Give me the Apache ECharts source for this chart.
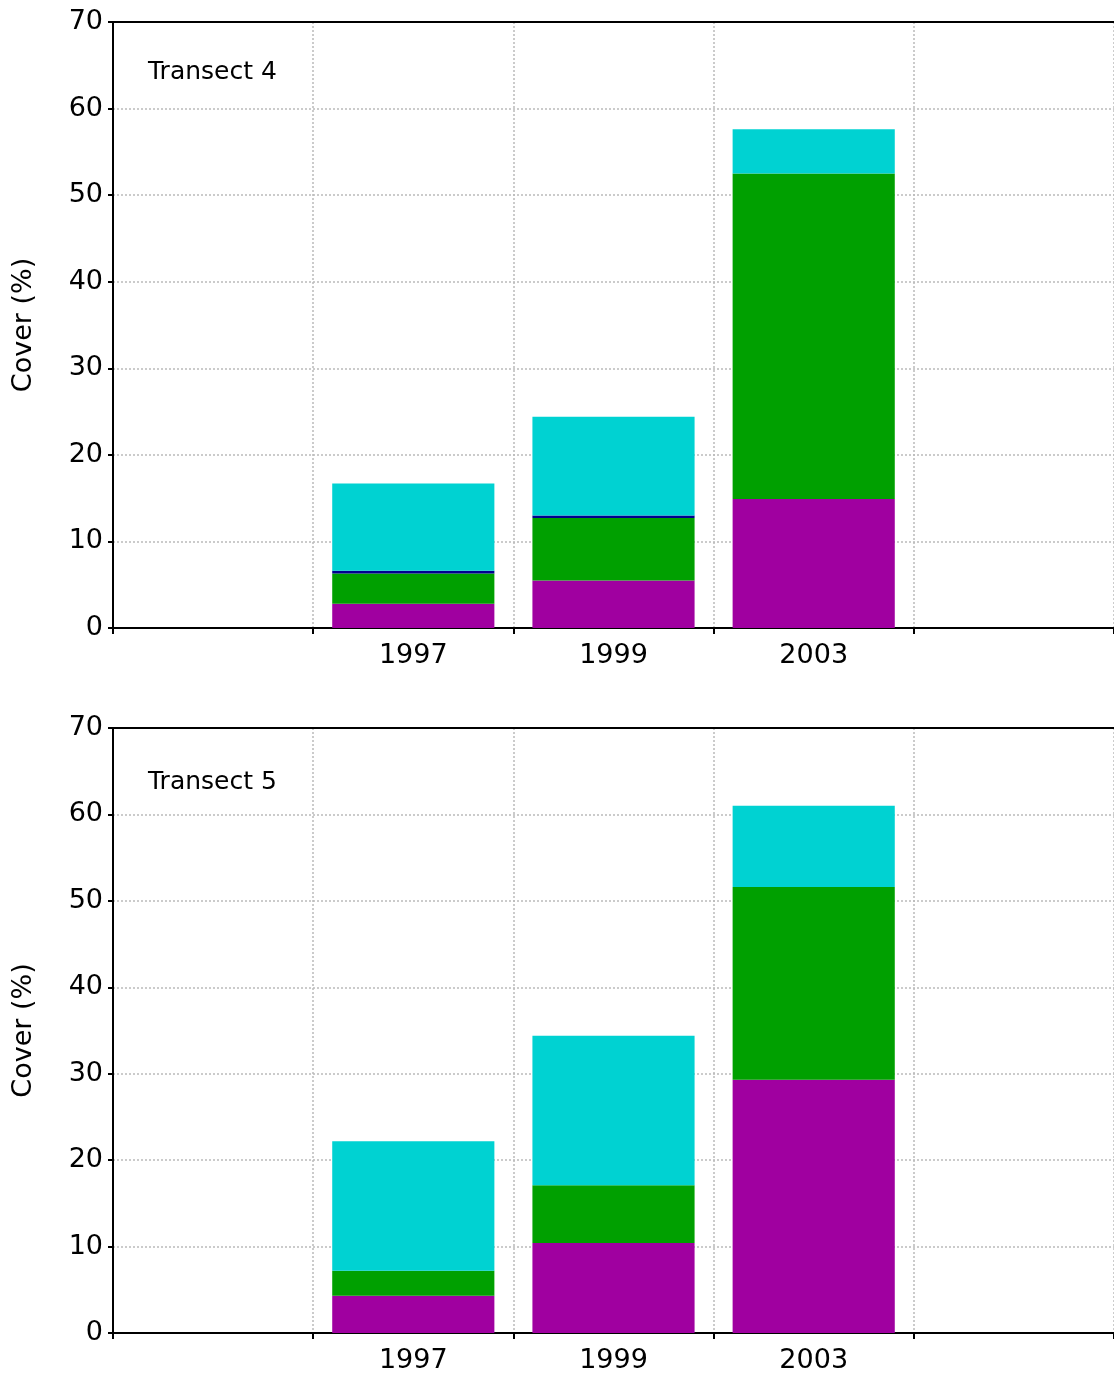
<!DOCTYPE html>
<html>
<head>
<meta charset="utf-8">
<script src="https://cdn.jsdelivr.net/npm/echarts@6/dist/echarts.min.js"></script>
<style>html,body{margin:0;padding:0;background:#fff;overflow:hidden}#c{width:1114px;height:1381px}</style>
</head>
<body>
<div id="c"></div>
<script>
var categories = ['', '1997', '1999', '2003', ''];
var yTicks = [0, 10, 20, 30, 40, 50, 60, 70];
// Transect 4 (layer thicknesses)
var t4Purple = [null, 2.8, 5.5, 14.9, null];
var t4Green = [null, 3.5, 7.2, 37.6, null];
var t4Blue = [null, 0.3, 0.3, null, null];
var t4Cyan = [null, 10.1, 11.4, 5.1, null];
// Transect 5
var t5Purple = [null, 4.3, 10.4, 29.3, null];
var t5Green = [null, 2.9, 6.7, 22.3, null];
var t5Cyan = [null, 15.0, 17.3, 9.4, null];

var font = 'DejaVu Sans';
var chart = echarts.init(document.getElementById('c'), null, { renderer: 'canvas' });

function grid(top, h) {
  return { left: 113, top: top, height: h, width: 1005 };
}
function xAxis(i) {
  return {
    type: 'category', gridIndex: i, data: categories,
    axisLine: { lineStyle: { color: '#000', width: 2 } },
    axisTick: { show: true, length: 6, lineStyle: { color: '#000', width: 2 } },
    axisLabel: { color: '#000', fontSize: 27, fontFamily: font, margin: 14 },
    splitLine: { show: true, lineStyle: { color: '#bbb', type: [2, 2], width: 1.5 } }
  };
}
function topAxis(i) {
  return {
    type: 'category', gridIndex: i, position: 'top', data: categories,
    axisLine: { show: true, lineStyle: { color: '#000', width: 2 } },
    axisTick: { show: false }, axisLabel: { show: false }, splitLine: { show: false }
  };
}
function yAxis(i) {
  return {
    type: 'value', gridIndex: i, min: 0, max: 70, interval: 10,
    name: 'Cover (%)', nameLocation: 'middle', nameGap: 76,
    nameTextStyle: { color: '#000', fontSize: 27, fontFamily: font },
    axisLine: { show: true, lineStyle: { color: '#000', width: 2 } },
    axisTick: { show: true, length: 5, lineStyle: { color: '#000', width: 2 } },
    axisLabel: { color: '#000', fontSize: 27, fontFamily: font, margin: 10,
      formatter: function (v) { return yTicks.indexOf(v) >= 0 ? String(v) : ''; } },
    splitLine: { show: true, lineStyle: { color: '#bbb', type: [2, 2], width: 1.5 } }
  };
}
function bar(i, data, color, stack) {
  return { type: 'bar', xAxisIndex: i, yAxisIndex: i, stack: stack, data: data,
    itemStyle: { color: color }, barCategoryGap: '19%', animation: false };
}

chart.setOption({
  animation: false,
  grid: [grid(22, 606), grid(728, 605)],
  xAxis: [xAxis(0), xAxis(1), topAxis(0), topAxis(1)],
  yAxis: [yAxis(0), yAxis(1)],
  graphic: [
    { type: 'text', left: 148, top: 60, style: { text: 'Transect 4', fontSize: 25, fontFamily: font, fill: '#000' } },
    { type: 'text', left: 148, top: 770, style: { text: 'Transect 5', fontSize: 25, fontFamily: font, fill: '#000' } }
  ],
  series: [
    bar(0, t4Purple, '#A000A0', 'a'),
    bar(0, t4Green, '#00A000', 'a'),
    bar(0, t4Blue, '#000090', 'a'),
    bar(0, t4Cyan, '#00D2D2', 'a'),
    bar(1, t5Purple, '#A000A0', 'b'),
    bar(1, t5Green, '#00A000', 'b'),
    bar(1, t5Cyan, '#00D2D2', 'b')
  ]
});
</script>
</body>
</html>
